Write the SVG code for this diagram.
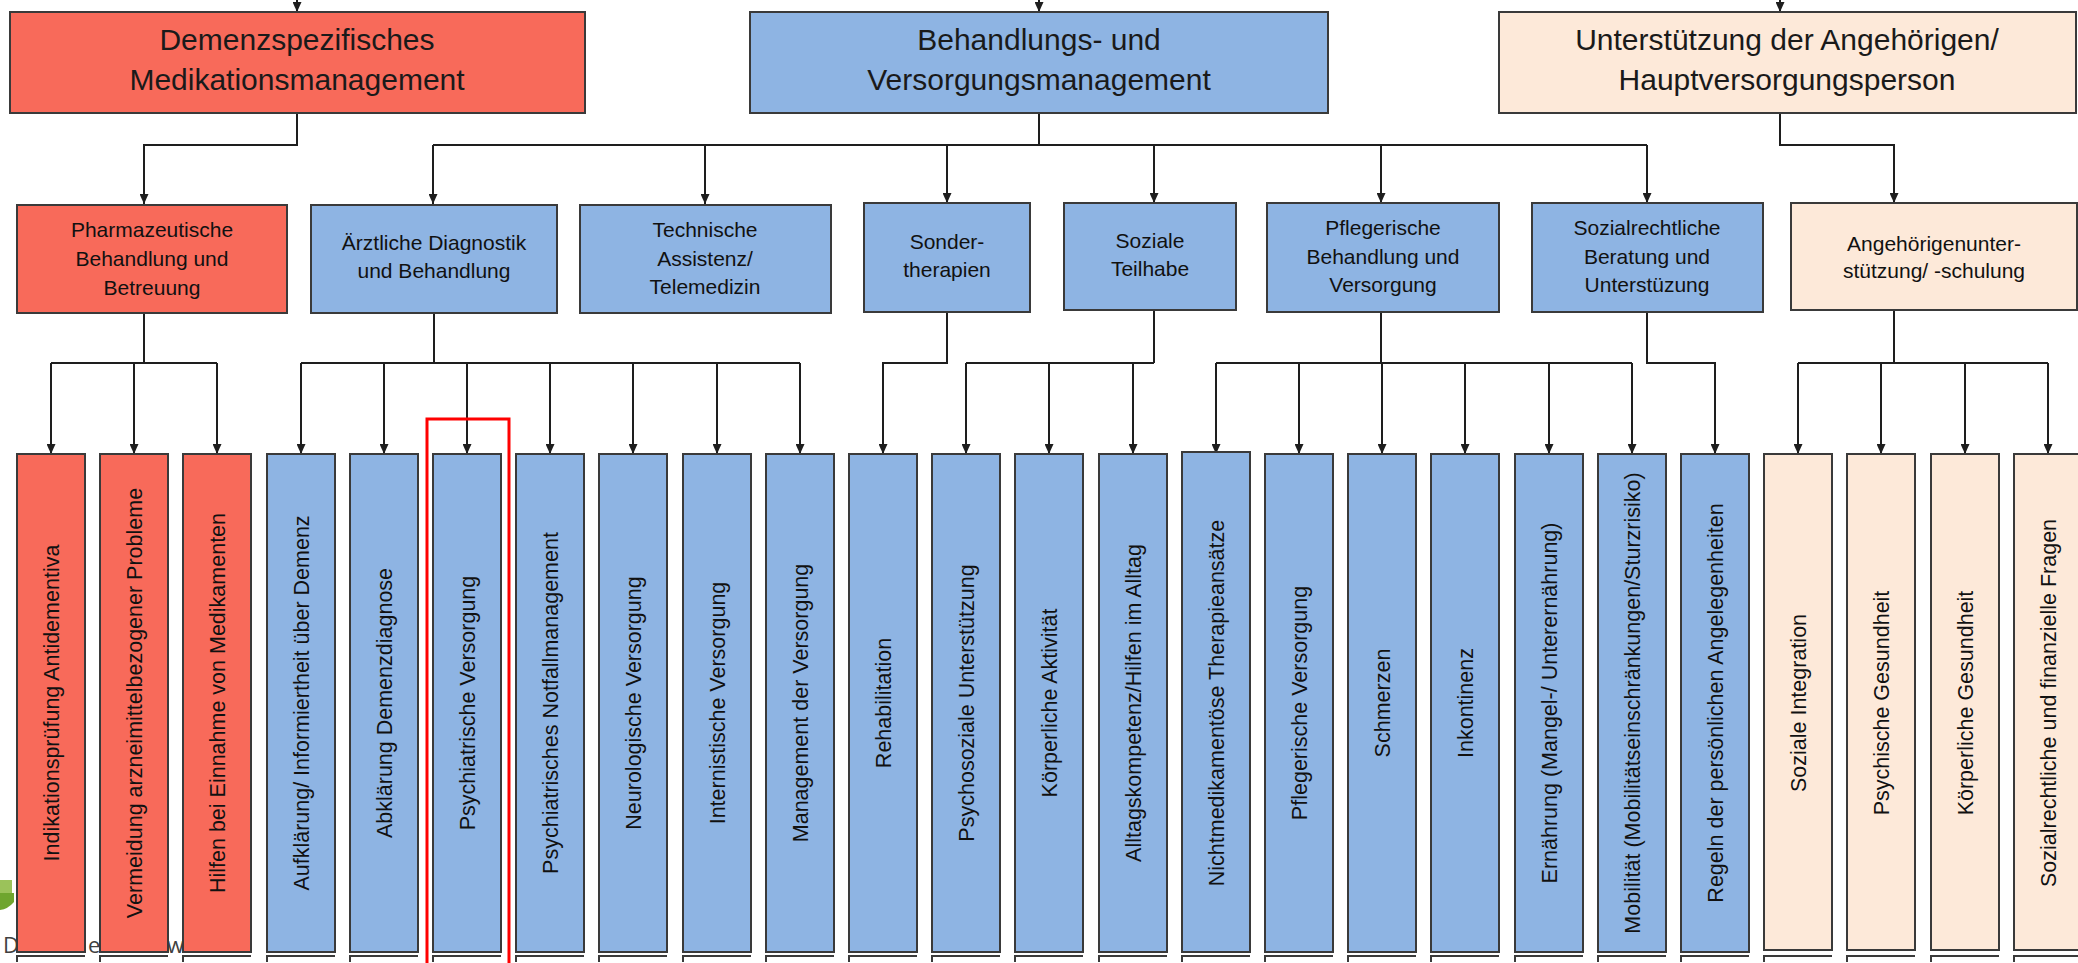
<svg xmlns="http://www.w3.org/2000/svg" width="2078" height="963" viewBox="0 0 2078 963">
  <defs>
    <marker id="arrow" markerUnits="userSpaceOnUse" markerWidth="10" markerHeight="9" refX="10" refY="4.5" orient="auto">
      <path d="M0,0 L10,4.5 L0,9 z" fill="#1e1e1e"/>
    </marker>
    <style>
      .red { fill: #F86A5A; }
      .blue { fill: #8EB4E3; }
      .peach { fill: #FDE9D9; }
      .box { stroke: #3a3a3a; stroke-width: 2; }
      .foot { fill: none; stroke: #3a3a3a; stroke-width: 2; }
      .conn { fill: none; stroke: #1e1e1e; stroke-width: 2; }
      .drop { fill: none; stroke: #1e1e1e; stroke-width: 2; marker-end: url(#arrow); }
      .t1 { font-family: "Liberation Sans", Arial, sans-serif; font-size: 30px; fill: #1a1a1a; text-anchor: middle; }
      .t2 { font-family: "Liberation Sans", Arial, sans-serif; font-size: 21px; fill: #111; text-anchor: middle; }
      .t3 { font-family: "Liberation Sans", Arial, sans-serif; font-size: 21.5px; fill: #111; text-anchor: middle; }
      .frag { font-family: "Open Sans", "Noto Sans", sans-serif; font-size: 22px; fill: #404040; }
    </style>
  </defs>

  <rect x="0" y="0" width="2078" height="963" fill="#ffffff"/>

  <!-- partly hidden logo and text lying behind the chart -->
  <g id="backdrop">
    <rect x="0" y="880" width="12" height="14" fill="#9BC25A"/>
    <path d="M0,893 H14 V902 Q8,909 0,910 Z" fill="#6FA52E"/>
    <text class="frag" x="3" y="953">D</text>
    <text class="frag" x="88" y="953">e</text>
    <text class="frag" x="167" y="953">w</text>
  </g>

  <!-- connectors -->
  <g id="connectors">
    <!-- entries into the three main areas -->
    <path class="drop" d="M297,0 V12"/>
    <path class="drop" d="M1039,0 V12"/>
    <path class="drop" d="M1780,0 V12"/>

    <!-- level 1 to level 2 -->
    <path class="drop" d="M297,113 V145 H144 V204"/>
    <path class="conn" d="M1039,113 V145"/>
    <path class="conn" d="M433,145 H1647"/>
    <path class="drop" d="M433,145 V204"/>
    <path class="drop" d="M705,145 V204"/>
    <path class="drop" d="M947,145 V203"/>
    <path class="drop" d="M1154,145 V203"/>
    <path class="drop" d="M1381,145 V203"/>
    <path class="drop" d="M1647,145 V203"/>
    <path class="drop" d="M1780,113 V145 H1894 V203"/>

    <!-- level 2 to level 3 -->
    <path class="conn" d="M144,313 V363"/>
    <path class="conn" d="M51,363 H217"/>
    <path class="drop" d="M51,363 V454"/>
    <path class="drop" d="M134,363 V454"/>
    <path class="drop" d="M217,363 V454"/>

    <path class="conn" d="M434,313 V363"/>
    <path class="conn" d="M301,363 H800"/>
    <path class="drop" d="M301,363 V454"/>
    <path class="drop" d="M384,363 V454"/>
    <path class="drop" d="M467,363 V454"/>
    <path class="drop" d="M550,363 V454"/>
    <path class="drop" d="M633,363 V454"/>
    <path class="drop" d="M717,363 V454"/>
    <path class="drop" d="M800,363 V454"/>

    <path class="drop" d="M947,312 V363 H883 V454"/>

    <path class="conn" d="M1154,310 V363"/>
    <path class="conn" d="M966,363 H1154"/>
    <path class="drop" d="M966,363 V454"/>
    <path class="drop" d="M1049,363 V454"/>
    <path class="drop" d="M1133,363 V454"/>

    <path class="conn" d="M1381,312 V363"/>
    <path class="conn" d="M1216,363 H1632"/>
    <path class="drop" d="M1216,363 V454"/>
    <path class="drop" d="M1299,363 V454"/>
    <path class="drop" d="M1382,363 V454"/>
    <path class="drop" d="M1465,363 V454"/>
    <path class="drop" d="M1549,363 V454"/>
    <path class="drop" d="M1632,363 V454"/>

    <path class="drop" d="M1647,312 V363 H1715 V454"/>

    <path class="conn" d="M1894,310 V363"/>
    <path class="conn" d="M1798,363 H2048"/>
    <path class="drop" d="M1798,363 V454"/>
    <path class="drop" d="M1881,363 V454"/>
    <path class="drop" d="M1965,363 V454"/>
    <path class="drop" d="M2048,363 V454"/>
  </g>

  <!-- level 1 -->
  <g id="n-medikation">
    <rect class="red box" x="10" y="12" width="575" height="101"/>
    <text class="t1" x="297" y="50">Demenzspezifisches</text>
    <text class="t1" x="297" y="90">Medikationsmanagement</text>
  </g>
  <g id="n-behandlung">
    <rect class="blue box" x="750" y="12" width="578" height="101"/>
    <text class="t1" x="1039" y="50">Behandlungs- und</text>
    <text class="t1" x="1039" y="90">Versorgungsmanagement</text>
  </g>
  <g id="n-angehoerige">
    <rect class="peach box" x="1499" y="12" width="577" height="101"/>
    <text class="t1" x="1787" y="50">Unterstützung der Angehörigen/</text>
    <text class="t1" x="1787" y="90">Hauptversorgungsperson</text>
  </g>

  <!-- level 2 -->
  <g id="n-pharma">
    <rect class="red box" x="17" y="205" width="270" height="108"/>
    <text class="t2" x="152" y="237">Pharmazeutische</text>
    <text class="t2" x="152" y="266">Behandlung und</text>
    <text class="t2" x="152" y="295">Betreuung</text>
  </g>
  <g id="n-aerztlich">
    <rect class="blue box" x="311" y="205" width="246" height="108"/>
    <text class="t2" x="434" y="250">Ärztliche Diagnostik</text>
    <text class="t2" x="434" y="278">und Behandlung</text>
  </g>
  <g id="n-technik">
    <rect class="blue box" x="580" y="205" width="251" height="108"/>
    <text class="t2" x="705" y="237">Technische</text>
    <text class="t2" x="705" y="266">Assistenz/</text>
    <text class="t2" x="705" y="294">Telemedizin</text>
  </g>
  <g id="n-sonder">
    <rect class="blue box" x="864" y="203" width="166" height="109"/>
    <text class="t2" x="947" y="249">Sonder-</text>
    <text class="t2" x="947" y="277">therapien</text>
  </g>
  <g id="n-teilhabe">
    <rect class="blue box" x="1064" y="203" width="172" height="107"/>
    <text class="t2" x="1150" y="248">Soziale</text>
    <text class="t2" x="1150" y="276">Teilhabe</text>
  </g>
  <g id="n-pflege">
    <rect class="blue box" x="1267" y="203" width="232" height="109"/>
    <text class="t2" x="1383" y="235">Pflegerische</text>
    <text class="t2" x="1383" y="264">Behandlung und</text>
    <text class="t2" x="1383" y="292">Versorgung</text>
  </g>
  <g id="n-sozialrecht">
    <rect class="blue box" x="1532" y="203" width="231" height="109"/>
    <text class="t2" x="1647" y="235">Sozialrechtliche</text>
    <text class="t2" x="1647" y="264">Beratung und</text>
    <text class="t2" x="1647" y="292">Unterstüzung</text>
  </g>
  <g id="n-angschulung">
    <rect class="peach box" x="1791" y="203" width="286" height="107"/>
    <text class="t2" x="1934" y="251">Angehörigenunter-</text>
    <text class="t2" x="1934" y="278">stützung/ -schulung</text>
  </g>

  <!-- level 3 -->
  <g id="l-0"><rect class="red box" x="17" y="454" width="68" height="498"/><path class="foot" d="M17,962 V956 H85"/>
    <text class="t3" transform="translate(58.5,703) rotate(-90)">Indikationsprüfung Antidementiva</text></g>
  <g id="l-1"><rect class="red box" x="100" y="454" width="68" height="498"/><path class="foot" d="M100,962 V956 H168"/>
    <text class="t3" transform="translate(141.5,703) rotate(-90)">Vermeidung arzneimittelbezogener Probleme</text></g>
  <g id="l-2"><rect class="red box" x="183" y="454" width="68" height="498"/><path class="foot" d="M183,962 V956 H251"/>
    <text class="t3" transform="translate(224.5,703) rotate(-90)">Hilfen bei Einnahme von Medikamenten</text></g>
  <g id="l-3"><rect class="blue box" x="267" y="454" width="68" height="498"/><path class="foot" d="M267,962 V956 H335"/>
    <text class="t3" transform="translate(308.5,703) rotate(-90)">Aufklärung/ Informiertheit über Demenz</text></g>
  <g id="l-4"><rect class="blue box" x="350" y="454" width="68" height="498"/><path class="foot" d="M350,962 V956 H418"/>
    <text class="t3" transform="translate(391.5,703) rotate(-90)">Abklärung Demenzdiagnose</text></g>
  <g id="l-5"><rect class="blue box" x="433" y="454" width="68" height="498"/><path class="foot" d="M433,962 V956 H501"/>
    <text class="t3" transform="translate(474.5,703) rotate(-90)">Psychiatrische Versorgung</text></g>
  <g id="l-6"><rect class="blue box" x="516" y="454" width="68" height="498"/><path class="foot" d="M516,962 V956 H584"/>
    <text class="t3" transform="translate(557.5,703) rotate(-90)">Psychiatrisches Notfallmanagement</text></g>
  <g id="l-7"><rect class="blue box" x="599" y="454" width="68" height="498"/><path class="foot" d="M599,962 V956 H667"/>
    <text class="t3" transform="translate(640.5,703) rotate(-90)">Neurologische Versorgung</text></g>
  <g id="l-8"><rect class="blue box" x="683" y="454" width="68" height="498"/><path class="foot" d="M683,962 V956 H751"/>
    <text class="t3" transform="translate(724.5,703) rotate(-90)">Internistische Versorgung</text></g>
  <g id="l-9"><rect class="blue box" x="766" y="454" width="68" height="498"/><path class="foot" d="M766,962 V956 H834"/>
    <text class="t3" transform="translate(807.5,703) rotate(-90)">Management der Versorgung</text></g>
  <g id="l-10"><rect class="blue box" x="849" y="454" width="68" height="498"/><path class="foot" d="M849,962 V956 H917"/>
    <text class="t3" transform="translate(890.5,703) rotate(-90)">Rehabilitation</text></g>
  <g id="l-11"><rect class="blue box" x="932" y="454" width="68" height="498"/><path class="foot" d="M932,962 V956 H1000"/>
    <text class="t3" transform="translate(973.5,703) rotate(-90)">Psychosoziale Unterstützung</text></g>
  <g id="l-12"><rect class="blue box" x="1015" y="454" width="68" height="498"/><path class="foot" d="M1015,962 V956 H1083"/>
    <text class="t3" transform="translate(1056.5,703) rotate(-90)">Körperliche Aktivität</text></g>
  <g id="l-13"><rect class="blue box" x="1099" y="454" width="68" height="498"/><path class="foot" d="M1099,962 V956 H1167"/>
    <text class="t3" transform="translate(1140.5,703) rotate(-90)">Alltagskompetenz/Hilfen im Alltag</text></g>
  <g id="l-14"><rect class="blue box" x="1182" y="452" width="68" height="500"/><path class="foot" d="M1182,962 V956 H1250"/>
    <text class="t3" transform="translate(1223.5,703) rotate(-90)">Nichtmedikamentöse Therapieansätze</text></g>
  <g id="l-15"><rect class="blue box" x="1265" y="454" width="68" height="498"/><path class="foot" d="M1265,962 V956 H1333"/>
    <text class="t3" transform="translate(1306.5,703) rotate(-90)">Pflegerische Versorgung</text></g>
  <g id="l-16"><rect class="blue box" x="1348" y="454" width="68" height="498"/><path class="foot" d="M1348,962 V956 H1416"/>
    <text class="t3" transform="translate(1389.5,703) rotate(-90)">Schmerzen</text></g>
  <g id="l-17"><rect class="blue box" x="1431" y="454" width="68" height="498"/><path class="foot" d="M1431,962 V956 H1499"/>
    <text class="t3" transform="translate(1472.5,703) rotate(-90)">Inkontinenz</text></g>
  <g id="l-18"><rect class="blue box" x="1515" y="454" width="68" height="498"/><path class="foot" d="M1515,962 V956 H1583"/>
    <text class="t3" transform="translate(1556.5,703) rotate(-90)">Ernährung (Mangel-/ Unterernährung)</text></g>
  <g id="l-19"><rect class="blue box" x="1598" y="454" width="68" height="498"/><path class="foot" d="M1598,962 V956 H1666"/>
    <text class="t3" transform="translate(1639.5,703) rotate(-90)">Mobilität (Mobilitätseinschränkungen/Sturzrisiko)</text></g>
  <g id="l-20"><rect class="blue box" x="1681" y="454" width="68" height="498"/><path class="foot" d="M1681,962 V956 H1749"/>
    <text class="t3" transform="translate(1722.5,703) rotate(-90)">Regeln der persönlichen Angelegenheiten</text></g>
  <g id="l-21"><rect class="peach box" x="1764" y="454" width="68" height="496"/><path class="foot" d="M1764,962 V956 H1832"/>
    <text class="t3" transform="translate(1805.5,703) rotate(-90)">Soziale Integration</text></g>
  <g id="l-22"><rect class="peach box" x="1847" y="454" width="68" height="496"/><path class="foot" d="M1847,962 V956 H1915"/>
    <text class="t3" transform="translate(1888.5,703) rotate(-90)">Psychische Gesundheit</text></g>
  <g id="l-23"><rect class="peach box" x="1931" y="454" width="68" height="496"/><path class="foot" d="M1931,962 V956 H1999"/>
    <text class="t3" transform="translate(1972.5,703) rotate(-90)">Körperliche Gesundheit</text></g>
  <g id="l-24"><rect class="peach box" x="2014" y="454" width="68" height="496"/><path class="foot" d="M2014,962 V956 H2082"/>
    <text class="t3" transform="translate(2055.5,703) rotate(-90)">Sozialrechtliche und finanzielle Fragen</text></g>

  <!-- highlight frame -->
  <g id="highlight">
    <path d="M427,963 V419 H509 V963" fill="none" stroke="#FF0000" stroke-width="3"/>
  </g>
</svg>
